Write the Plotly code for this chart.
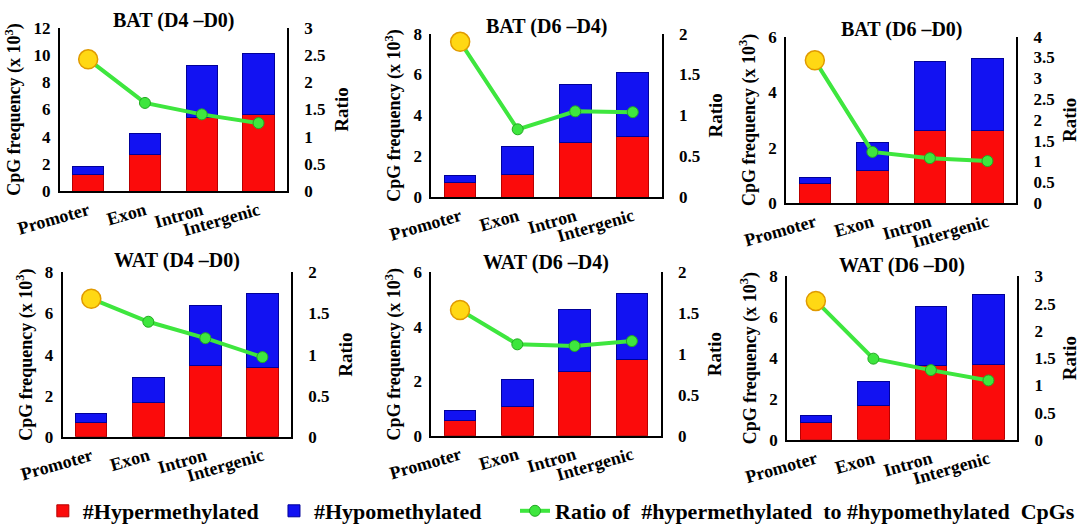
import plotly.graph_objects as go

# ---------------- data ----------------
categories = ["Promoter", "Exon", "Intron", "Intergenic"]

panel_titles = ["BAT (D4 –D0)", "BAT (D6 –D4)", "BAT (D6 –D0)",
                "WAT (D4 –D0)", "WAT (D6 –D4)", "WAT (D6 –D0)"]

hyper_bat_d4_d0 = [1.26, 2.70, 5.43, 5.60]
hypo_bat_d4_d0 = [0.54, 1.55, 3.83, 4.50]
ratio_bat_d4_d0 = [2.42, 1.62, 1.41, 1.25]

hyper_bat_d6_d4 = [0.71, 1.13, 2.66, 2.95]
hypo_bat_d6_d4 = [0.33, 1.33, 2.86, 3.17]
ratio_bat_d6_d4 = [1.90, 0.83, 1.05, 1.04]

hyper_bat_d6_d0 = [0.70, 1.19, 2.62, 2.60]
hypo_bat_d6_d0 = [0.23, 0.98, 2.48, 2.60]
ratio_bat_d6_d0 = [3.43, 1.23, 1.08, 1.01]

hyper_wat_d4_d0 = [0.71, 1.69, 3.45, 3.38]
hypo_wat_d4_d0 = [0.45, 1.21, 2.96, 3.61]
ratio_wat_d4_d0 = [1.68, 1.40, 1.20, 0.97]

hyper_wat_d6_d4 = [0.56, 1.07, 2.38, 2.80]
hypo_wat_d6_d4 = [0.36, 1.00, 2.25, 2.44]
ratio_wat_d6_d4 = [1.54, 1.12, 1.10, 1.16]

hyper_wat_d6_d0 = [0.86, 1.66, 3.63, 3.67]
hypo_wat_d6_d0 = [0.32, 1.20, 2.88, 3.44]
ratio_wat_d6_d0 = [2.55, 1.49, 1.28, 1.09]

left_max = [12, 8, 6, 8, 6, 8]
right_max = [3, 2, 4, 2, 2, 3]

legend_names = ["#Hypermethylated", "#Hypomethylated",
                "Ratio of  #hypermethylated  to #hypomethylated  CpGs"]

# ---------------- layout helpers ----------------
W, H = 1080, 532
FONT = "Liberation Serif"
RED = "#fb0b0b"
BLUE = "#1212f2"
GREEN = "#3ee63e"

hyper_all = [hyper_bat_d4_d0, hyper_bat_d6_d4, hyper_bat_d6_d0,
             hyper_wat_d4_d0, hyper_wat_d6_d4, hyper_wat_d6_d0]
hypo_all = [hypo_bat_d4_d0, hypo_bat_d6_d4, hypo_bat_d6_d0,
            hypo_wat_d4_d0, hypo_wat_d6_d4, hypo_wat_d6_d0]
ratio_all = [ratio_bat_d4_d0, ratio_bat_d6_d4, ratio_bat_d6_d0,
             ratio_wat_d4_d0, ratio_wat_d6_d4, ratio_wat_d6_d0]

# pixel boxes (left, right, top, bottom) of each plot area
boxes = [(60, 288, 28, 193), (433, 664, 34, 199), (789, 1020, 37, 205),
         (63, 292, 275, 441), (433, 663, 275, 440), (790, 1021, 279, 444)]
title_px = [21, 27, 30, 263, 265, 268]

fig = go.Figure()
layout = {}
annotations = []

for i in range(6):
    n = i + 1
    xa = "x" if n == 1 else f"x{n}"
    yl = "y" if n == 1 else f"y{2*n-1}"
    yr = f"y{2*n}"
    l, r, t, b = boxes[i]
    xdom = [l / W, r / W]
    ydom = [1 - b / H, 1 - t / H]

    fig.add_trace(go.Bar(x=categories, y=hyper_all[i], xaxis=xa, yaxis=yl,
                         name=legend_names[0], legend="legend",
                         showlegend=(i == 0),
                         marker=dict(color=RED, line=dict(color="#b80000", width=1))))
    fig.add_trace(go.Bar(x=categories, y=hypo_all[i], xaxis=xa, yaxis=yl,
                         name=legend_names[1], legend="legend2",
                         showlegend=(i == 0),
                         marker=dict(color=BLUE, line=dict(color="#00009a", width=1))))
    fig.add_trace(go.Scatter(x=categories, y=ratio_all[i], xaxis=xa, yaxis=yr,
                             name=legend_names[2], legend="legend3",
                             showlegend=(i == 0), mode="lines+markers",
                             cliponaxis=False,
                             line=dict(color=GREEN, width=4),
                             marker=dict(color=GREEN, size=11,
                                         line=dict(color="#22a822", width=1))))
    fig.add_trace(go.Scatter(x=categories[:1], y=ratio_all[i][:1], xaxis=xa, yaxis=yr,
                             showlegend=False, mode="markers", cliponaxis=False,
                             marker=dict(color="#ffd814", size=19,
                                         line=dict(color="#e09a00", width=1.5))))

    xkey = "xaxis" if n == 1 else f"xaxis{n}"
    ylkey = "yaxis" if n == 1 else f"yaxis{2*n-1}"
    yrkey = f"yaxis{2*n}"
    layout[xkey] = dict(domain=xdom, anchor=yl, showline=True, linecolor="black",
                        linewidth=2, ticks="", showgrid=False, tickangle=-16,
                        automargin=False,
                        tickfont=dict(family=FONT, size=18, color="black", weight="bold"))
    layout[ylkey] = dict(domain=ydom, anchor=xa, range=[0, left_max[i]], dtick=2,
                         showline=True, linecolor="black", linewidth=2,
                         showgrid=False, zeroline=False, ticks="", automargin=False,
                         ticklabelstandoff=4,
                         tickfont=dict(family=FONT, size=17, color="black", weight="bold"),
                         title=dict(text="CpG frequency (x 10<sup>3</sup>)", standoff=8,
                                    font=dict(family=FONT, size=18, color="black",
                                              weight="bold")))
    layout[yrkey] = dict(domain=ydom, anchor=xa, overlaying=yl, side="right",
                         range=[0, right_max[i]], dtick=0.5,
                         showline=True, linecolor="black", linewidth=2,
                         showgrid=False, zeroline=False, ticks="", automargin=False,
                         ticklabelstandoff=12,
                         tickfont=dict(family=FONT, size=17, color="black", weight="bold"),
                         title=dict(text="Ratio", standoff=10,
                                    font=dict(family=FONT, size=19, color="black",
                                              weight="bold")))
    annotations.append(dict(text=panel_titles[i], xref="paper", yref="paper",
                            x=(l + r) / 2 / W, y=1 - title_px[i] / H,
                            xanchor="center", yanchor="middle", showarrow=False,
                            font=dict(family=FONT, size=20, color="black", weight="bold")))

legend_font = dict(family=FONT, size=22, color="black", weight="bold")
fig.update_layout(
    width=W, height=H, margin=dict(l=0, r=0, t=0, b=0),
    paper_bgcolor="white", plot_bgcolor="white",
    barmode="stack", bargap=0.45,
    font=dict(family=FONT),
    annotations=annotations,
    legend=dict(x=43 / W, y=1 - 516 / H, xanchor="left", yanchor="middle",
                orientation="h", font=legend_font, bgcolor="rgba(0,0,0,0)"),
    legend2=dict(x=275 / W, y=1 - 516 / H, xanchor="left", yanchor="middle",
                 orientation="h", font=legend_font, bgcolor="rgba(0,0,0,0)"),
    legend3=dict(x=517 / W, y=1 - 516 / H, xanchor="left", yanchor="middle",
                 orientation="h", font=legend_font, bgcolor="rgba(0,0,0,0)"),
    **layout,
)

fig.write_html("out.html")
